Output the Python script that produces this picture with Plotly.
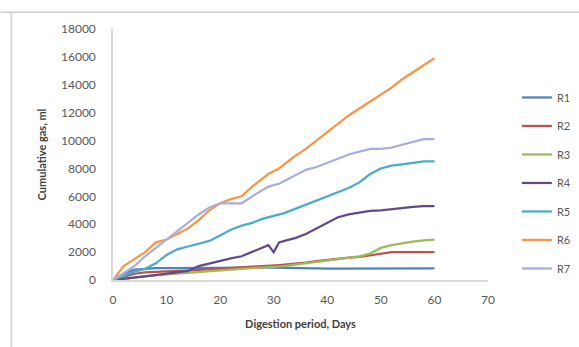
import plotly.graph_objects as go

days = [0, 2, 4, 6, 8, 10, 12, 14, 16, 18, 20, 22, 24, 26, 28, 29, 30, 31, 32,
        34, 36, 38, 40, 42, 44, 46, 48, 50, 52, 54, 56, 58, 60]

R1 = [0, 450, 750, 820, 850, 850, 860, 860, 870, 870, 880, 880, 890, 890, 890, 890, 890,
      890, 890, 880, 860, 840, 820, 820, 820, 820, 830, 830, 830, 830, 830, 830, 830]
R2 = [0, 250, 450, 550, 600, 620, 650, 680, 720, 760, 800, 850, 900, 950, 1000, 1020, 1050,
      1070, 1100, 1150, 1250, 1350, 1450, 1550, 1600, 1650, 1750, 1900, 2000, 2000, 2000, 2000, 2000]
R3 = [0, 100, 200, 300, 350, 400, 450, 500, 550, 600, 700, 750, 800, 850, 900, 920, 950,
      980, 1000, 1100, 1200, 1300, 1400, 1500, 1600, 1700, 1900, 2300, 2500, 2650, 2750, 2850, 2900]
R4 = [0, 80, 150, 250, 350, 450, 550, 650, 1000, 1200, 1400, 1550, 1700, 2000, 2300, 2500, 2000,
      2700, 2800, 3000, 3300, 3700, 4100, 4500, 4700, 4850, 4950, 5000, 5100, 5150, 5250, 5300, 5300]
R5 = [0, 300, 600, 800, 1200, 1800, 2200, 2400, 2600, 2800, 3200, 3600, 3900, 4100, 4400, 4500, 4600,
      4700, 4800, 5100, 5400, 5700, 6000, 6300, 6600, 7000, 7600, 8000, 8200, 8300, 8400, 8500, 8500]
R6 = [0, 1000, 1500, 2000, 2700, 2900, 3300, 3700, 4300, 5000, 5500, 5800, 6000, 6700, 7300, 7600, 7800,
      8000, 8300, 8900, 9400, 10000, 10600, 11200, 11800, 12300, 12800, 13300, 13800, 14400, 14900, 15400, 15900]
R7 = [0, 500, 1000, 1700, 2300, 2900, 3500, 4100, 4700, 5200, 5500, 5500, 5500, 6000, 6500, 6700, 6800,
      6900, 7100, 7500, 7900, 8100, 8400, 8700, 9000, 9200, 9400, 9400, 9500, 9700, 9900, 10100, 10100]

names = ["R1", "R2", "R3", "R4", "R5", "R6", "R7"]
series = [R1, R2, R3, R4, R5, R6, R7]
colors = ["#4F81BD", "#C0504D", "#9BBB59", "#5F4B8B", "#4BACC6", "#F79646", "#A9AEDB"]

x_ticks = [0, 10, 20, 30, 40, 50, 60, 70]
y_ticks = [0, 2000, 4000, 6000, 8000, 10000, 12000, 14000, 16000, 18000]
y_tick_labels = [str(v) for v in y_ticks]

FONT = "Lato, 'Open Sans', Arial, sans-serif"

fig = go.Figure()
for n, s, c in zip(names, series, colors):
    fig.add_trace(go.Scatter(x=days, y=s, name=n, mode="lines", legendgroup=n,
                             line=dict(color=c, width=2.25)))

fig.update_layout(
    width=579, height=347,
    margin=dict(l=113, r=91, t=29, b=67, autoexpand=False),
    paper_bgcolor="white", plot_bgcolor="white",
    font=dict(family=FONT, size=12, color="#595959"),
    showlegend=True,
    legend=dict(x=1.077, y=0.785, xanchor="left", yanchor="top",
                font=dict(size=11, color="#595959"), tracegroupgap=9.5,
                itemwidth=30, bgcolor="rgba(0,0,0,0)"),
    xaxis=dict(range=[0, 70], tickvals=x_ticks, showgrid=False, zeroline=False,
               showline=True, linecolor="#D9D9D9", linewidth=1.5, ticks="",
               ticklabelstandoff=8,
               title=dict(text="<b>Digestion period, Days</b>", font=dict(size=11, color="#404040"),
                          standoff=14)),
    yaxis=dict(range=[0, 18000], tickvals=y_ticks, ticktext=y_tick_labels,
               showgrid=False, zeroline=False,
               showline=True, linecolor="#D9D9D9", linewidth=1.5, ticks="",
               ticklabelstandoff=13,
               title=dict(text="<b>Cumulative gas, ml</b>", font=dict(size=11, color="#404040"),
                          standoff=12)),
    shapes=[
        dict(type="line", xref="paper", yref="paper", x0=-0.3, x1=1.25, y0=1.067, y1=1.067,
             line=dict(color="#D0D0D0", width=1.5)),
        dict(type="line", xref="paper", yref="paper", x0=-0.271, x1=-0.271, y0=-0.3, y1=1.067,
             line=dict(color="#D0D0D0", width=1.5)),
    ],
)

fig.write_html("out.html")
